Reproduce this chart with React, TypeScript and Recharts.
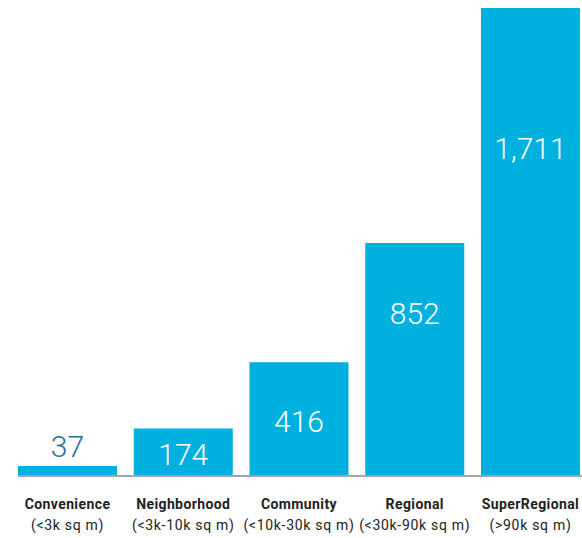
import { BarChart, Bar, XAxis, YAxis, LabelList } from 'recharts';

const categories = ['Convenience', 'Neighborhood', 'Community', 'Regional', 'SuperRegional'];
const sizeRanges = ['(<3k sq m)', '(<3k-10k sq m)', '(<10k-30k sq m)', '(<30k-90k sq m)', '(>90k sq m)'];
const centerCounts = [37, 174, 416, 852, 1711];

const data = categories.map((name, i) => ({ name, range: sizeRanges[i], count: centerCounts[i] }));

const BAR_BLUE = '#00b0de';

function CategoryTick({ x, y, payload, index }: { x?: number; y?: number; payload?: { value: string }; index?: number }) {
  const range = sizeRanges[index ?? 0];
  return (
    <g>
      <text x={x} y={(y ?? 0) + 33} textAnchor="middle" fill="#222" fontFamily="Roboto" fontWeight={700} fontSize={14} letterSpacing={0.4}>
        {payload?.value}
      </text>
      <text x={x} y={(y ?? 0) + 54} textAnchor="middle" fill="#222" fontFamily="Roboto" fontSize={14} letterSpacing={0.7}>
        {range}
      </text>
    </g>
  );
}

function ValueLabel(props: any) {
  const { x, y, width, height, value } = props;
  const cx = Number(x) + Number(width) / 2;
  const h = Number(height);
  let cy: number;
  let fill = '#fff';
  if (h < 20) {
    // too short, label sits above the bar
    cy = Number(y) - 20;
    fill = '#2a6d96';
  } else if (h < 150) {
    cy = Number(y) + h / 2 + 2;
  } else {
    cy = Number(y) + h * 0.3;
  }
  return (
    <text x={cx} y={cy + 11} textAnchor="middle" fill={fill} fontFamily="Roboto" fontWeight={300} fontSize={30}>
      {Number(value).toLocaleString('en-US')}
    </text>
  );
}

export default function App() {
  return (
    <div style={{ position: 'absolute', left: 0, top: 0, width: 582, height: 538, overflow: 'hidden', background: '#fff' }}>
      <div style={{ clipPath: 'inset(0 0 0 18px)' }}>
        <BarChart
          width={590}
          height={538}
          data={data}
          margin={{ top: 8, right: 1.625, left: 9.625, bottom: 0 }}
          barCategoryGap={8.375}
        >
          <XAxis
            dataKey="name"
            height={62}
            interval={0}
            tickLine={false}
            tickSize={0}
            tickMargin={0}
            axisLine={{ stroke: '#a3a6a9', strokeWidth: 2 }}
            tick={<CategoryTick />}
          />
          <YAxis hide domain={[0, 1711]} />
          <Bar dataKey="count" fill={BAR_BLUE} isAnimationActive={false}>
            <LabelList dataKey="count" content={<ValueLabel />} />
          </Bar>
        </BarChart>
      </div>
    </div>
  );
}
